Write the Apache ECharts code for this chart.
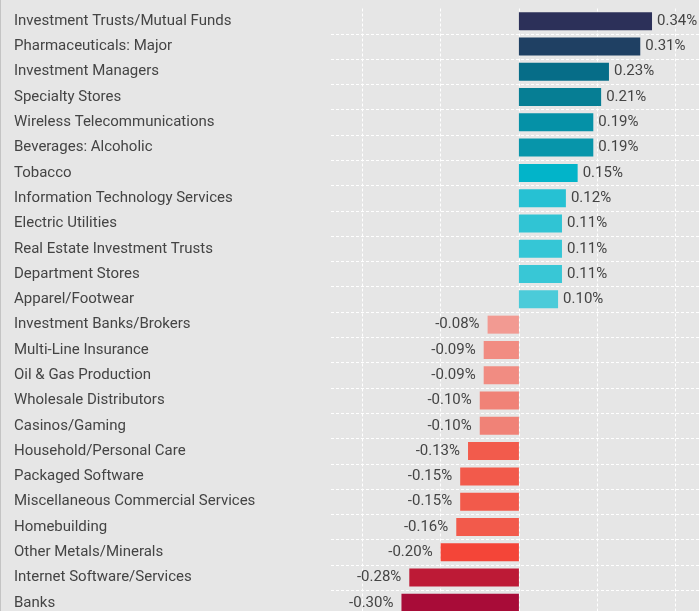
<!DOCTYPE html>
<html>
<head>
<meta charset="utf-8">
<style>
  html, body { margin: 0; padding: 0; background: #e6e6e6; overflow: hidden; }
  #chart { width: 699px; height: 620px; }
</style>
<script src="https://cdn.jsdelivr.net/npm/echarts@6/dist/echarts.min.js"></script>
</head>
<body>
<div id="chart"></div>
<script>
// Industry groups, top to bottom
const industries = [
  'Investment Trusts/Mutual Funds', 'Pharmaceuticals: Major', 'Investment Managers',
  'Specialty Stores', 'Wireless Telecommunications', 'Beverages: Alcoholic', 'Tobacco',
  'Information Technology Services', 'Electric Utilities', 'Real Estate Investment Trusts',
  'Department Stores', 'Apparel/Footwear', 'Investment Banks/Brokers', 'Multi-Line Insurance',
  'Oil & Gas Production', 'Wholesale Distributors', 'Casinos/Gaming', 'Household/Personal Care',
  'Packaged Software', 'Miscellaneous Commercial Services', 'Homebuilding',
  'Other Metals/Minerals', 'Internet Software/Services', 'Banks'
];

// Contribution in percent
const contributions = [
  0.34, 0.31, 0.23, 0.21, 0.19, 0.19, 0.15, 0.12, 0.11, 0.11, 0.11, 0.10,
  -0.08, -0.09, -0.09, -0.10, -0.10, -0.13, -0.15, -0.15, -0.16, -0.20, -0.28, -0.30
];

// Vertical reference lines (percent)
const gridValues = [-0.4, -0.2, 0, 0.2, 0.4];

// Bar fill per row
const barColors = [
  '#2c3059', '#1f4063', '#066d88', '#067e94', '#0591a7', '#0795aa',
  '#02b4c9', '#26c1d3', '#30c4d4', '#35c6d6', '#38c7d6', '#4bcbd9',
  '#f29a92', '#f18c82', '#f18c82', '#f08277', '#f08277', '#f25b4c',
  '#f25a4b', '#f25a4b', '#f25a4b', '#f44538', '#bd1a36', '#a80c38'
];

const chart = echarts.init(document.getElementById('chart'), null, { renderer: 'canvas' });
const textColor = '#444444';
const fontFamily = 'Roboto, "Noto Sans", sans-serif';
const dashed = { color: '#ffffff', type: [3, 2], width: 1 };

chart.setOption({
  backgroundColor: '#e6e6e6',
  animation: false,
  grid: { left: 331, top: 8.5, width: 368, height: 607, containLabel: false },
  xAxis: {
    type: 'value',
    min: -0.48,
    max: 0.46,
    axisLine: { show: false },
    axisTick: { show: false },
    axisLabel: { show: false },
    splitLine: { show: false }
  },
  yAxis: {
    type: 'category',
    inverse: true,
    data: industries,
    axisLine: { show: false },
    axisTick: { show: false },
    axisLabel: {
      align: 'left',
      margin: 317,
      color: textColor,
      fontFamily: fontFamily,
      fontSize: 15
    },
    splitLine: {
      show: true,
      interval: (index) => index !== 0,
      lineStyle: dashed
    }
  },
  graphic: [{
    type: 'line',
    shape: { x1: 0.5, y1: 0, x2: 0.5, y2: 620 },
    style: { stroke: '#c4c4c4', lineWidth: 1 },
    silent: true
  }],
  series: [{
    type: 'bar',
    barWidth: 18,
    data: contributions.map((v, i) => ({
      value: v,
      itemStyle: { color: barColors[i] },
      label: v >= 0 ? { position: 'right', distance: 5 } : { position: 'left', distance: 8 }
    })),
    label: {
      show: true,
      color: textColor,
      fontFamily: fontFamily,
      fontSize: 15,
      formatter: p => p.value.toFixed(2) + '%'
    },
    markLine: {
      silent: true,
      symbol: 'none',
      z: 0,
      label: { show: false },
      lineStyle: dashed,
      data: gridValues.map(v => ({ xAxis: v }))
    },
    z: 3
  }]
});
</script>
</body>
</html>
